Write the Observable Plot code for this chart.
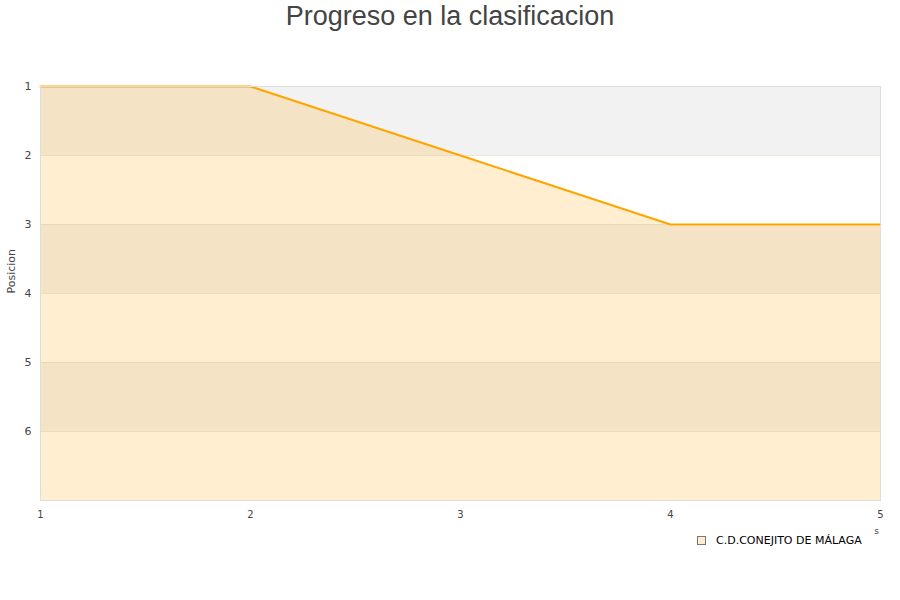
<!DOCTYPE html>
<html>
<head>
<meta charset="utf-8">
<script src="https://cdn.jsdelivr.net/npm/d3@7"></script>
<script src="https://cdn.jsdelivr.net/npm/@observablehq/plot@0.6"></script>
<style>
  body { margin: 0; background: #fff; }
  #wrap { position: relative; width: 900px; height: 600px; overflow: hidden; }
  #title { position: absolute; left: 0; width: 900px; top: 0px; text-align: center;
    font-family: "Liberation Sans", Arial, sans-serif; font-size: 27px; color: #444; line-height: 32px; }
  #legend { position: absolute; left: 697px; top: 534px; font-family: "DejaVu Sans", sans-serif;
    font-size: 11px; color: #000; display: flex; align-items: center; }
  #legend .sw { width: 7px; height: 7px; background: #feecd0; border: 1px solid #777; margin-right: 10px; }
  #chart { position: absolute; left: 0; top: 0; }
</style>
</head>
<body>
<div id="wrap">
  <div id="chart"></div>
  <div id="title">Progreso en la clasificacion</div>
  <div id="legend"><div class="sw"></div><span>C.D.CONEJITO DE MÁLAGA</span></div>
</div>
<script>
const jornadas = [1, 2, 3, 4, 5];
const posiciones = [1, 1, 2, 3, 3];
const equipo = "C.D.CONEJITO DE MÁLAGA";
const yTicks = [1, 2, 3, 4, 5, 6];
const bandStarts = [1, 2, 3, 4, 5, 6];

const data = jornadas.map((j, i) => ({jornada: j, posicion: posiciones[i]}));
const bands = bandStarts.map((b, i) => ({y1: b, y2: b + 1, gray: i % 2 === 0}));
const fmt = d => String(d);

const chart = Plot.plot({
  width: 900,
  height: 600,
  marginLeft: 40,
  marginRight: 20,
  marginTop: 86,
  marginBottom: 100,
  style: {fontFamily: "DejaVu Sans, sans-serif", background: "transparent", color: "#444"},
  x: {domain: [1, 5], label: null},
  y: {domain: [1, 7], reverse: true, label: null},
  marks: [
    Plot.rect(bands.filter(d => d.gray), {x1: 1, x2: 5, y1: "y1", y2: "y2", fill: "#f2f2f2"}),
    Plot.areaY(data, {x: "jornada", y1: 7, y2: "posicion", fill: "#ffa500", fillOpacity: 0.19}),
    Plot.ruleY([2, 3, 4, 5, 6], {stroke: "#d8c8a8", strokeOpacity: 0.45, strokeWidth: 1}),
    Plot.line(data, {x: "jornada", y: "posicion", stroke: "#ffa500", strokeWidth: 2}),
    Plot.frame({stroke: "#dddddd"}),
    Plot.axisX({ticks: jornadas, tickFormat: fmt, tickSize: 0, tickPadding: 10, fontSize: 10, fill: "#444", label: null}),
    Plot.axisY({ticks: yTicks, tickFormat: fmt, tickSize: 0, tickPadding: 9, fontSize: 11, fill: "#444", label: null}),
    Plot.text(["Posicion"], {frameAnchor: "left", dx: -29, rotate: -90, fontSize: 11, fill: "#444"}),
    Plot.text(["s"], {x: 5, y: 7, dy: 31, dx: -4, fontSize: 9, fill: "#444"})
  ]
});
document.getElementById("chart").appendChild(chart);
</script>
</body>
</html>
